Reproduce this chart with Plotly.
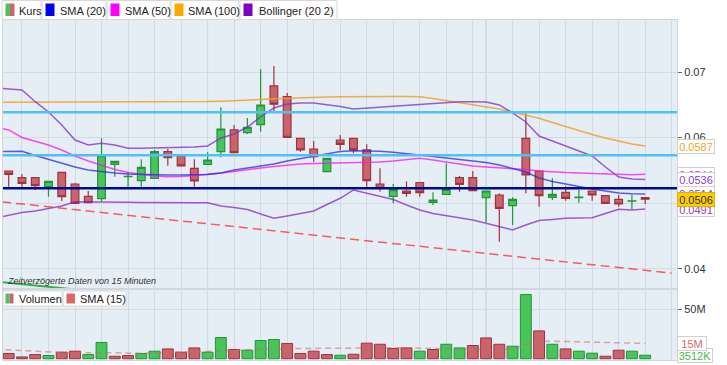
import plotly.graph_objects as go

W, H = 727, 365

# ---------------- data ----------------
days = list(range(49))
line_days = list(range(-1, 49))

open_ = [0.05490, 0.05388, 0.05388, 0.05251, 0.05470, 0.05292, 0.05104, 0.05068, 0.05592, 0.05403,
         0.05342, 0.05379, 0.05785, 0.05719, 0.05531, 0.05592, 0.05785, 0.06116, 0.06074, 0.06199,
         0.06787, 0.06623, 0.05989, 0.05826, 0.05480, 0.05963, 0.05989, 0.05811, 0.05292, 0.05104,
         0.05185, 0.05315, 0.05013, 0.05135, 0.05388, 0.05388, 0.05083, 0.05124, 0.04961, 0.05989,
         0.05490, 0.05089, 0.05165, 0.05085, 0.05185, 0.05114, 0.05059, 0.05030, 0.05086]
high = [0.05490, 0.05445, 0.05388, 0.05333, 0.05470, 0.05307, 0.05185, 0.05989, 0.05638, 0.05480,
        0.05669, 0.05811, 0.05826, 0.05719, 0.05669, 0.05775, 0.06462, 0.06192, 0.06299, 0.07041,
        0.07092, 0.06680, 0.05989, 0.05948, 0.05684, 0.06039, 0.05989, 0.05897, 0.05531, 0.05292,
        0.05330, 0.05315, 0.05165, 0.05608, 0.05414, 0.05490, 0.05185, 0.05150, 0.05089, 0.06370,
        0.05490, 0.05379, 0.05262, 0.05201, 0.05185, 0.05114, 0.05124, 0.05124, 0.05086]
low = [0.05251, 0.05251, 0.05201, 0.05098, 0.05033, 0.04998, 0.05007, 0.05033, 0.05403, 0.05251,
       0.05251, 0.05379, 0.05571, 0.05567, 0.05251, 0.05592, 0.05699, 0.05760, 0.06054, 0.06090,
       0.06405, 0.06004, 0.05785, 0.05632, 0.05480, 0.05811, 0.05760, 0.05251, 0.05175, 0.04998,
       0.05098, 0.05098, 0.04972, 0.05135, 0.05175, 0.05190, 0.04708, 0.04412, 0.04667, 0.05150,
       0.04946, 0.05048, 0.05037, 0.05007, 0.05037, 0.04998, 0.04946, 0.04906, 0.04987]
close = [0.05440, 0.05303, 0.05266, 0.05333, 0.05098, 0.04998, 0.05007, 0.05724, 0.05638, 0.05409,
         0.05547, 0.05785, 0.05693, 0.05567, 0.05338, 0.05658, 0.06131, 0.05772, 0.06157, 0.06497,
         0.06509, 0.06004, 0.05811, 0.05708, 0.05684, 0.05897, 0.05811, 0.05342, 0.05226, 0.05207,
         0.05150, 0.05162, 0.05048, 0.05211, 0.05287, 0.05190, 0.05185, 0.04921, 0.05059, 0.05429,
         0.05114, 0.05135, 0.05074, 0.05091, 0.05124, 0.04998, 0.04987, 0.05036, 0.05060]

volume_m = [5.3, 1.8, 4.2, 3.2, 6.6, 7.6, 4.2, 16.4, 2.5, 3.2,
            5.3, 7.6, 9.9, 6.6, 10.9, 6.6, 21.4, 9.3, 8.6, 18.4,
            19.4, 15.4, 5.3, 7.6, 4.2, 3.5, 4.5, 15.7, 14.6, 10.3,
            10.9, 7.6, 9.3, 14.6, 10.9, 13.3, 21.0, 14.6, 12.6, 64.8,
            28.1, 14.6, 9.9, 7.6, 5.6, 2.5, 8.6, 7.6, 3.512]

vol_sma15 = [9.6, 8.8, 8.1, 7.6, 6.8, 6.2, 6.1, 6.2, 6.3, 6.0,
             5.6, 5.3, 5.8, 6.1, 6.6, 6.9, 7.3, 7.8, 8.6, 9.1,
             9.6, 10.1, 10.3, 10.3, 10.3, 10.3, 10.1, 10.4, 10.8, 11.2,
             11.3, 11.1, 10.6, 10.2, 10.0, 9.8, 9.6, 9.6, 9.6, 9.6,
             14.6, 17.2, 17.7, 17.4, 17.0, 16.7, 16.3, 15.9, 15.6, 15.4]

sma20 = [0.05785, 0.05785, 0.05792, 0.05727, 0.05666, 0.05612, 0.05551, 0.05506, 0.05480, 0.05460,
         0.05445, 0.05437, 0.05429, 0.05429, 0.05429, 0.05429, 0.05437, 0.05460, 0.05506, 0.05536,
         0.05567, 0.05597, 0.05643, 0.05681, 0.05719, 0.05757, 0.05788, 0.05800, 0.05800, 0.05792,
         0.05775, 0.05757, 0.05734, 0.05711, 0.05689, 0.05666, 0.05650, 0.05620, 0.05582, 0.05531,
         0.05475, 0.05384, 0.05330, 0.05292, 0.05251, 0.05216, 0.05185, 0.05155, 0.05143, 0.05140]

sma50 = [0.06161, 0.06116, 0.06001, 0.05948, 0.05887, 0.05811, 0.05719, 0.05643, 0.05574, 0.05513,
         0.05467, 0.05437, 0.05414, 0.05403, 0.05406, 0.05422, 0.05437, 0.05460, 0.05483, 0.05513,
         0.05536, 0.05559, 0.05582, 0.05597, 0.05605, 0.05608, 0.05608, 0.05612, 0.05620, 0.05628,
         0.05643, 0.05666, 0.05684, 0.05658, 0.05628, 0.05597, 0.05567, 0.05551, 0.05539, 0.05528,
         0.05513, 0.05490, 0.05475, 0.05467, 0.05460, 0.05452, 0.05445, 0.05437, 0.05432, 0.05440]

sma100 = [0.06538, 0.06538, 0.06538, 0.06538, 0.06538, 0.06538, 0.06538, 0.06538, 0.06538, 0.06538,
          0.06538, 0.06539, 0.06541, 0.06543, 0.06544, 0.06546, 0.06549, 0.06555, 0.06561, 0.06568,
          0.06581, 0.06591, 0.06600, 0.06608, 0.06616, 0.06620, 0.06623, 0.06626, 0.06626, 0.06626,
          0.06626, 0.06626, 0.06623, 0.06596, 0.06565, 0.06535, 0.06504, 0.06473, 0.06436, 0.06390,
          0.06344, 0.06294, 0.06230, 0.06169, 0.06101, 0.06047, 0.05994, 0.05948, 0.05902, 0.05870]

bb_upper = [0.06756, 0.06741, 0.06726, 0.06547, 0.06390, 0.06192, 0.05963, 0.05887, 0.05913, 0.05887,
            0.05836, 0.05836, 0.05841, 0.05841, 0.05846, 0.05856, 0.05872, 0.05994, 0.06055, 0.06161,
            0.06314, 0.06451, 0.06512, 0.06527, 0.06527, 0.06504, 0.06474, 0.06436, 0.06451, 0.06466,
            0.06482, 0.06497, 0.06512, 0.06527, 0.06543, 0.06547, 0.06547, 0.06543, 0.06497, 0.06375,
            0.06238, 0.06024, 0.05948, 0.05872, 0.05795, 0.05719, 0.05551, 0.05399, 0.05368, 0.05360]

bb_lower = [0.04774, 0.04819, 0.04857, 0.04880, 0.04918, 0.04957, 0.05022, 0.05022, 0.05022, 0.05018,
            0.05013, 0.05010, 0.05007, 0.05007, 0.05007, 0.05007, 0.05007, 0.04957, 0.04934, 0.04903,
            0.04835, 0.04769, 0.04804, 0.04842, 0.04880, 0.04979, 0.05074, 0.05201, 0.05155, 0.05109,
            0.05056, 0.04972, 0.04896, 0.04842, 0.04812, 0.04784, 0.04743, 0.04693, 0.04644, 0.04591,
            0.04667, 0.04735, 0.04751, 0.04769, 0.04774, 0.04778, 0.04842, 0.04906, 0.04896, 0.04910]

levels_light = [0.06386, 0.05730]
level_dark = [0.05227]

trend_red_x = [-0.5, 50.0]
trend_red_y = [0.05019, 0.03932]
trend_green_x = [-0.5, 10.0]
trend_green_y = [0.03794, 0.03584]

price_ticks = [0.04, 0.05, 0.06, 0.07]
price_ticktext = ["0.04", "0.05", "0.06", "0.07"]
vol_ticks = [50]
vol_ticktext = ["50M"]

# ---------------- style ----------------
FONT = "Liberation Sans, Arial, sans-serif"
GREEN, GREEN_D = "#48c45b", "#23943a"
RED, RED_D = "#c9646c", "#a0333d"
BG = "#e6eef5"
GRID = "#d2dbe3"
BORDER = "#cfd7de"


def PX(x):
    return x / W


def PY(y):
    return 1 - y / H


fig = go.Figure()

fig.add_trace(go.Candlestick(
    x=days, open=open_, high=high, low=low, close=close,
    xaxis="x", yaxis="y",
    increasing=dict(fillcolor=GREEN, line=dict(color=GREEN_D, width=1.2)),
    decreasing=dict(fillcolor=RED, line=dict(color=RED_D, width=1.2)),
    whiskerwidth=0, showlegend=False, hoverinfo="skip"))


def add_line(y, color, width=1.5, dash=None, x=None, xa="x", ya="y"):
    fig.add_trace(go.Scatter(
        x=line_days if x is None else x, y=y, mode="lines",
        line=dict(color=color, width=width, dash=dash),
        xaxis=xa, yaxis=ya, hoverinfo="skip", showlegend=False))


add_line(sma100, "rgba(240,160,40,0.85)")
add_line(bb_upper, "rgba(130,40,200,0.75)")
add_line(bb_lower, "rgba(130,40,200,0.75)")
add_line(sma50, "rgba(245,20,245,0.75)")
add_line(sma20, "rgba(40,40,225,0.75)")
add_line(trend_red_y, "rgba(255,40,40,0.75)", width=1.5, dash="9px,5px", x=trend_red_x)
add_line(trend_green_y, "rgba(30,170,50,0.9)", width=2, x=trend_green_x)

vol_up = [False] + [close[i] > close[i - 1] for i in range(1, len(close))]
fig.add_trace(go.Bar(
    x=days, y=volume_m, width=0.82,
    marker=dict(color=[GREEN if u else RED for u in vol_up],
                line=dict(color=[GREEN_D if u else RED_D for u in vol_up], width=1)),
    xaxis="x2", yaxis="y2", hoverinfo="skip", showlegend=False))
add_line(vol_sma15, "rgba(205,100,100,0.55)", width=1.5, dash="6px,4px", xa="x2", ya="y2")

shapes = []
# month separators
for d in [15, 36]:
    shapes.append(dict(type="line", xref="x", yref="paper", x0=d, x1=d,
                       y0=PY(360), y1=PY(20), line=dict(color="#c3ccd4", width=1), layer="below"))
for lv in levels_light:
    shapes.append(dict(type="line", xref="x domain", yref="y", x0=0, x1=1, y0=lv, y1=lv,
                       line=dict(color="#4fc1f6", width=2.5), layer="above"))
for lv in level_dark:
    shapes.append(dict(type="line", xref="x domain", yref="y", x0=0, x1=1, y0=lv, y1=lv,
                       line=dict(color="#000a8c", width=2.5), layer="above"))

annotations = []


def legend_box(x0, x1, y0, y1):
    shapes.append(dict(type="rect", xref="paper", yref="paper", x0=PX(x0), x1=PX(x1),
                       y0=PY(y1), y1=PY(y0), line=dict(color="#d8d8d8", width=1),
                       fillcolor="white", layer="above"))


def icon(x0, x1, y0, y1, color):
    shapes.append(dict(type="rect", xref="paper", yref="paper", x0=PX(x0), x1=PX(x1),
                       y0=PY(y1), y1=PY(y0), line=dict(width=0), fillcolor=color, layer="above"))


def text(x, y, s, size=11, color="#222", italic=False):
    annotations.append(dict(xref="paper", yref="paper", x=PX(x), y=PY(y), text=s,
                            showarrow=False, xanchor="left", yanchor="middle",
                            font=dict(family=FONT, size=size, color=color,
                                      style="italic" if italic else "normal")))


# top legend
top_items = [
    (2, 41, 17, "Kurs", None),
    (42, 106, 58, "SMA (20)", "#0000ee"),
    (107, 170, 122.5, "SMA (50)", "#ff00ff"),
    (171, 239, 186.5, "SMA (100)", "#ffa500"),
    (240, 337, 256.5, "Bollinger (20 2)", "#8000c0"),
]
for x0, x1, tx, label, col in top_items:
    legend_box(x0, x1, 0.5, 19.5)
    ix = x0 + 3.5
    if col is None:
        icon(ix, ix + 4.5, 3.5, 16, GREEN)
        icon(ix + 4.5, ix + 9, 3.5, 16, RED)
    else:
        icon(ix, ix + 9, 3.5, 16, col)
    text(tx, 10.5, label)

# volume legend
legend_box(3, 62, 291, 306)
icon(5.5, 9.5, 293.5, 303.5, GREEN)
icon(9.5, 13.5, 293.5, 303.5, RED)
text(17, 298.5, "Volumen")
legend_box(63, 126, 291, 306)
icon(66.5, 75, 293.5, 303.5, "#e06666")
text(78, 298.5, "SMA (15)")

text(5, 281, "Zeitverzögerte Daten von 15 Minuten", size=9, color="#333", italic=True)

# last value labels
value_labels = [
    ("0.0587", 0.0587, "#f5a623", "white", "#d0d0d0", "y"),
    ("0.0544", 0.0544, "#ee22ee", "white", "#d0d0d0", "y"),
    ("0.0536", 0.0536, "#8a3fd1", "white", "#d0d0d0", "y"),
    ("0.0514", 0.0514, "#5b3fdc", "white", "#d0d0d0", "y"),
    ("0.0491", 0.0491, "#8a3fd1", "white", "#d0d0d0", "y"),
    ("0.0506", 0.0506, "#333333", "#ffcc00", "#e0b000", "y"),
    ("3512K", 3.512, "#44bb44", "white", "#d0d0d0", "y2"),
    ("15M", 15.4, "#e06666", "white", "#d0d0d0", "y2"),
]
for s, v, col, bg, bc, ya in value_labels:
    annotations.append(dict(xref="paper", yref=ya, x=PX(677), y=v, text=s, showarrow=False,
                            xanchor="left", yanchor="middle",
                            width=(34 if len(s) == 6 else (32 if len(s) == 5 else 26)), height=11,
                            bgcolor=bg, bordercolor=bc, borderwidth=1, borderpad=1,
                            font=dict(family=FONT, size=11, color=col)))

grid_days = list(range(1, 36, 2)) + list(range(36, 51, 2))

xcommon = dict(domain=[PX(3), PX(677)], range=[-0.43, 50.4], showticklabels=False,
               tickmode="array", tickvals=grid_days, showgrid=True, gridcolor=GRID, gridwidth=1,
               zeroline=False, showline=True, linecolor=BORDER, mirror=True, ticks="",
               rangeslider=dict(visible=False), fixedrange=True)

fig.update_layout(
    width=W, height=H, margin=dict(l=0, r=0, t=0, b=0, autoexpand=False),
    paper_bgcolor="white", plot_bgcolor=BG, boxgap=0.17, bargap=0.1,
    font=dict(family=FONT, size=11, color="#333"),
    showlegend=False,
    xaxis=dict(anchor="y", **xcommon),
    xaxis2=dict(anchor="y2", matches="x", **xcommon),
    yaxis=dict(domain=[PY(289), PY(20)], range=[0.036908, 0.07793], side="right", anchor="x",
               tickmode="array", tickvals=price_ticks, ticktext=price_ticktext,
               ticks="outside", ticklen=4, tickcolor="#666", tickfont=dict(size=11, color="#333"),
               showgrid=True, gridcolor=GRID, zeroline=False, showline=True, linecolor=BORDER,
               mirror=True, fixedrange=True, automargin=False),
    yaxis2=dict(domain=[PY(360), PY(289)], range=[-1.3, 70.4], side="right", anchor="x2",
                tickmode="array", tickvals=vol_ticks, ticktext=vol_ticktext,
                ticks="outside", ticklen=4, tickcolor="#666", tickfont=dict(size=11, color="#333"),
                showgrid=True, gridcolor=GRID, zeroline=False, showline=True, linecolor=BORDER,
                mirror=True, fixedrange=True, automargin=False),
    shapes=shapes, annotations=annotations,
)

fig.write_html("out.html", config={"displayModeBar": False},
               post_script="document.body.style.margin='0px';document.body.style.overflow='hidden';")
